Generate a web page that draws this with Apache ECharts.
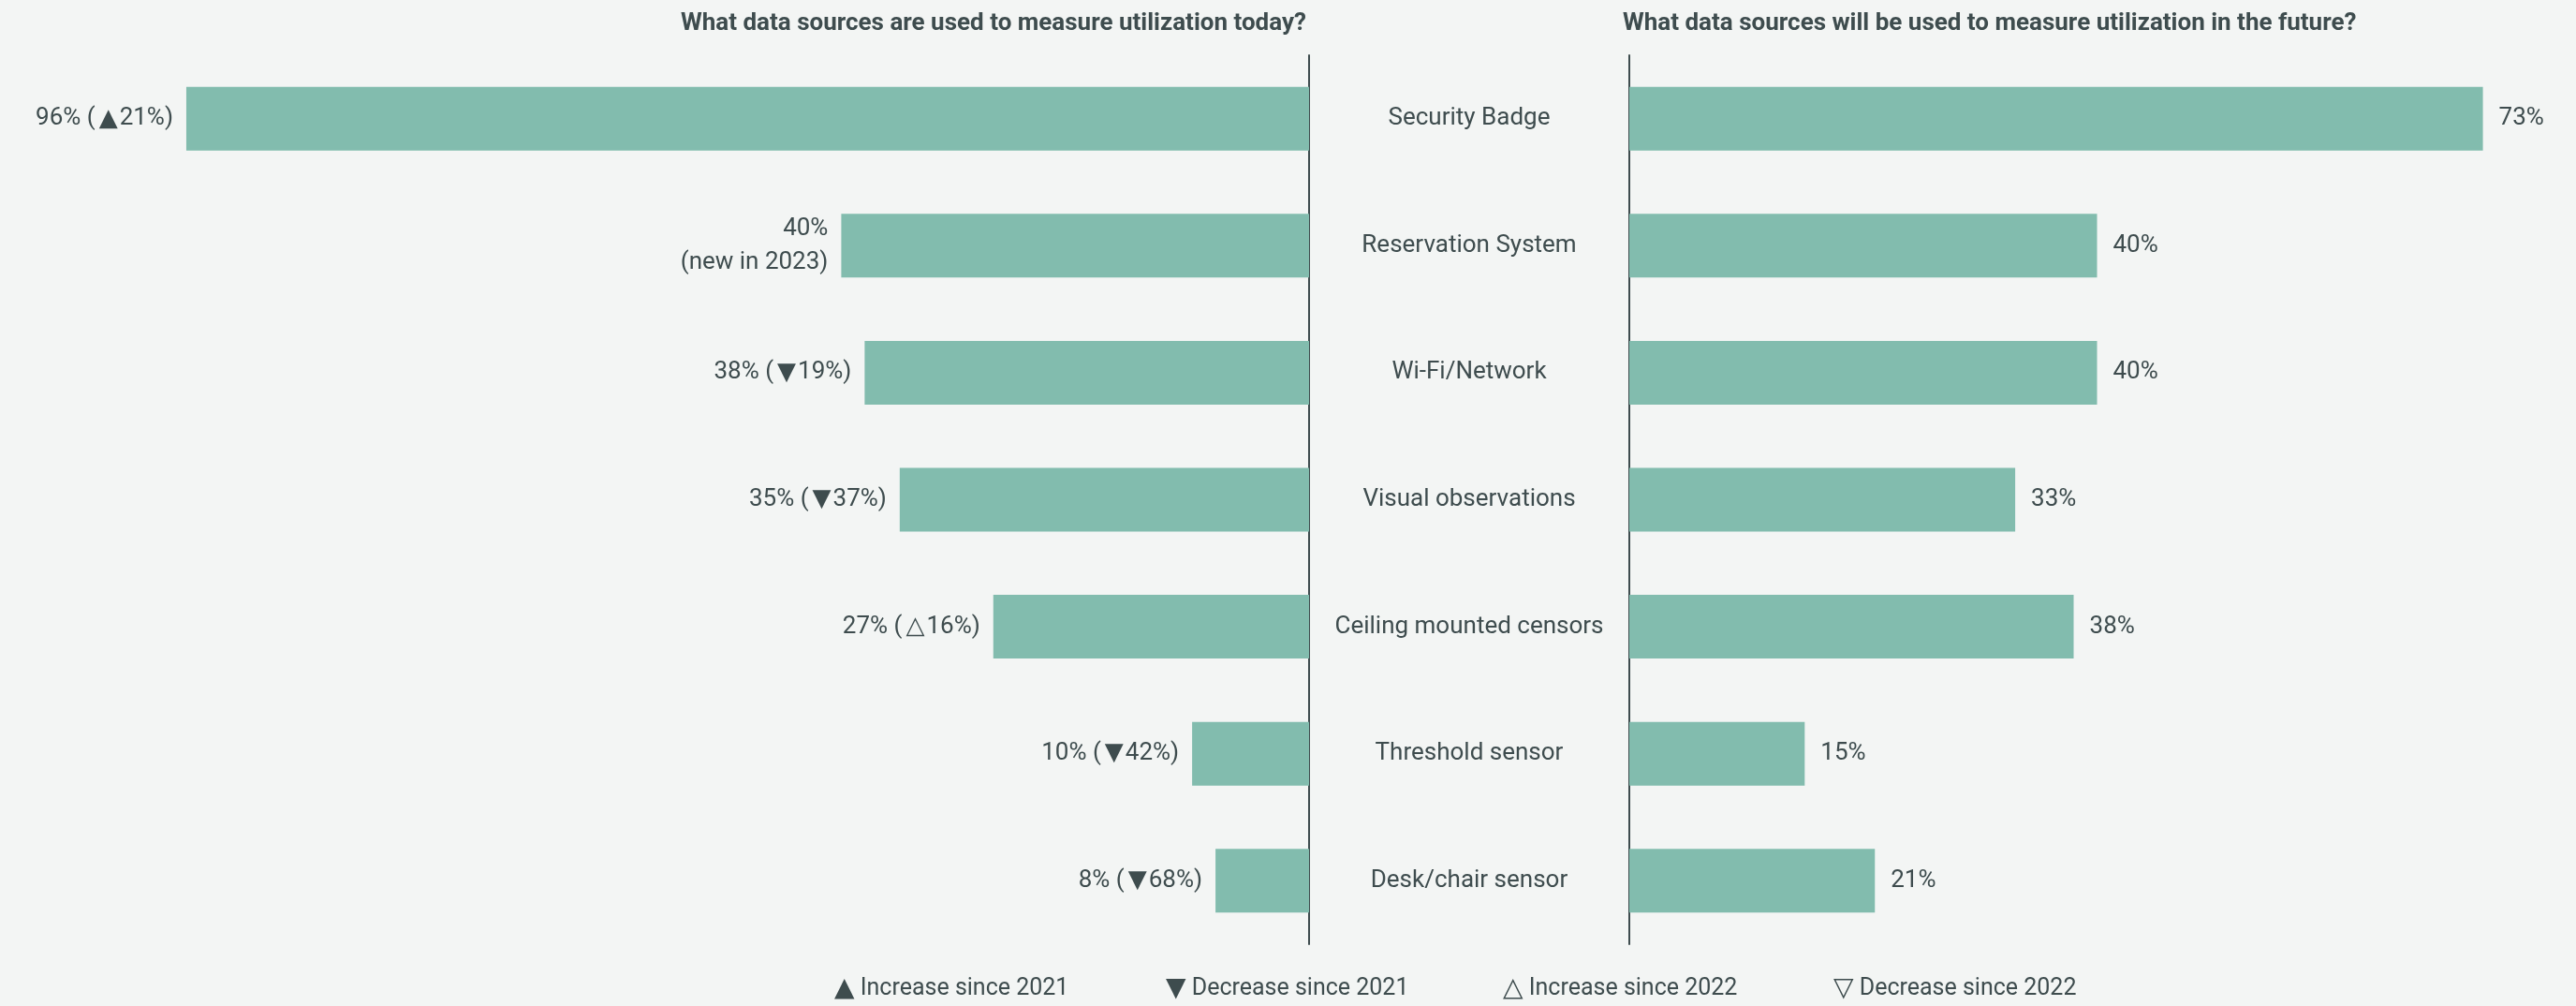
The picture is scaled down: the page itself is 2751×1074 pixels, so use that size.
<!DOCTYPE html>
<html>
<head>
<meta charset="utf-8">
<script src="https://cdn.jsdelivr.net/npm/echarts@6/dist/echarts.min.js"></script>
<style>
  html, body { margin: 0; padding: 0; background: #f3f5f4; }
  #chart { width: 2751px; height: 1074px; }
</style>
</head>
<body>
<div id="chart"></div>
<script>
  // data
  var categories = ['Security Badge', 'Reservation System', 'Wi-Fi/Network', 'Visual observations',
    'Ceiling mounted censors', 'Threshold sensor', 'Desk/chair sensor']
  var todayValues = [96, 40, 38, 35, 27, 10, 8]
  var todayLabels = ['96% (▲21%)', '40%\n(new in 2023)', '38% (▼19%)', '35% (▼37%)',
    '27% (△16%)', '10% (▼42%)', '8% (▼68%)']
  var futureValues = [73, 40, 40, 33, 38, 15, 21]
  var titles = ['What data sources are used to measure utilization today?',
    'What data sources will be used to measure utilization in the future?']
  var legendItems = ['▲ Increase since 2021', '▼ Decrease since 2021', '△ Increase since 2022', '▽ Decrease since 2022']

  var textColor = '#3e4c4e'
  var barColor = '#82bcae'
  var font = 'Roboto, "Noto Sans", sans-serif'

  // triangles drawn a bit larger, like in the original
  function markTri(s) {
    return s.replace(/[▲▼△▽]/g, '{t|$&}')
  }
  var triStyle = { fontFamily: '"DejaVu Sans"', fontSize: 26, color: textColor, padding: [0, 2, 0, 4] }

  var chart = echarts.init(document.getElementById('chart'))

  var legendX = [891, 1245, 1605, 1958]
  var legendGraphics = legendItems.map(function (t, i) {
    return {
      type: 'text',
      left: legendX[i],
      top: 1042,
      style: {
        text: markTri(t), fill: textColor, fontSize: 25, fontFamily: font,
        rich: { t: { fontFamily: '"DejaVu Sans"', fontSize: 28, fill: textColor } }
      }
    }
  })

  chart.setOption({
    backgroundColor: '#f3f5f4',
    animation: false,
    textStyle: { fontFamily: font },
    title: [
      {
        text: titles[0],
        right: 1351,
        top: 7,
        textStyle: { color: textColor, fontSize: 26, fontWeight: 'bold', fontFamily: font }
      },
      {
        text: titles[1],
        left: 1728,
        top: 7,
        textStyle: { color: textColor, fontSize: 26, fontWeight: 'bold', fontFamily: font }
      }
    ],
    grid: [
      { left: 149, width: 1249, top: 59, bottom: 66 },
      { left: 1740, width: 999, top: 59, bottom: 66 }
    ],
    xAxis: [
      { gridIndex: 0, type: 'value', min: 0, max: 100, inverse: true, show: false },
      { gridIndex: 1, type: 'value', min: 0, max: 80, show: false }
    ],
    yAxis: [
      {
        gridIndex: 0, type: 'category', data: categories, inverse: true, position: 'right',
        axisLine: { show: true, lineStyle: { color: textColor, width: 2 } },
        axisTick: { show: false },
        axisLabel: { show: false }
      },
      {
        gridIndex: 1, type: 'category', data: categories, inverse: true, position: 'left',
        axisLine: { show: true, lineStyle: { color: textColor, width: 2 } },
        axisTick: { show: false },
        axisLabel: {
          show: true, align: 'center', margin: 171,
          color: textColor, fontSize: 26, fontFamily: font
        }
      }
    ],
    series: [
      {
        type: 'bar',
        xAxisIndex: 0, yAxisIndex: 0,
        data: todayValues,
        barWidth: 68,
        itemStyle: { color: barColor },
        label: {
          show: true,
          position: 'left',
          distance: 14,
          color: textColor,
          fontSize: 26,
          lineHeight: 36,
          align: 'right',
          fontFamily: font,
          rich: { t: triStyle },
          formatter: function (p) { return markTri(todayLabels[p.dataIndex]) }
        }
      },
      {
        type: 'bar',
        xAxisIndex: 1, yAxisIndex: 1,
        data: futureValues,
        barWidth: 68,
        itemStyle: { color: barColor },
        label: {
          show: true,
          position: 'right',
          distance: 17,
          color: textColor,
          fontSize: 26,
          fontFamily: font,
          formatter: '{c}%'
        }
      }
    ],
    graphic: legendGraphics
  })
</script>
</body>
</html>
